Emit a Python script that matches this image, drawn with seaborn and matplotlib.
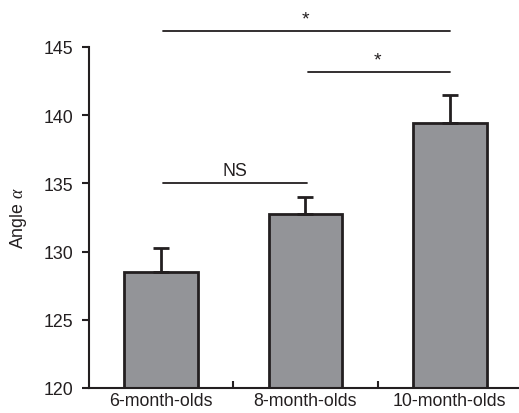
import matplotlib
matplotlib.use("Agg")
import matplotlib.pyplot as plt
import seaborn as sns
import pandas as pd
import numpy as np

categories = ["6-month-olds", "8-month-olds", "10-month-olds"]
means = [128.5, 132.75, 139.4]
errors = [1.75, 1.25, 2.1]
y_ticks = [120, 125, 130, 135, 140, 145]

sns.set_style("ticks")
plt.rcParams["font.family"] = ["Liberation Sans", "DejaVu Sans"]
plt.rcParams["mathtext.fontset"] = "custom"
plt.rcParams["mathtext.it"] = "Liberation Serif:italic"
tc = "#231f20"
plt.rcParams["text.color"] = tc
plt.rcParams["axes.labelcolor"] = tc
plt.rcParams["xtick.labelcolor"] = tc
plt.rcParams["ytick.labelcolor"] = tc

df = pd.DataFrame({"group": categories, "angle": means})

fig = plt.figure(figsize=(5.19, 4.14), dpi=100)
ax = fig.add_axes([89/519, 1-389/414, 1.0-89/519, (389-48)/414])

sns.barplot(data=df, x="group", y="angle", color="#939498", edgecolor=tc,
            linewidth=2, width=0.51, errorbar=None, ax=ax, saturation=1)
ax.errorbar(np.arange(len(categories)), means, yerr=[[0]*3, errors], fmt="none",
            ecolor=tc, elinewidth=2, capsize=5.5, capthick=2, zorder=1)

fs = 12.8
ax.set_ylim(120, 145)
ax.set_xlim(-0.5, 2.48)
ax.set_yticks(y_ticks)
ax.set_xticks([0, 1, 2])
ax.set_xticklabels(categories, fontsize=fs)
ax.set_xticks([0.5, 1.5], minor=True)
ax.tick_params(axis="x", which="major", length=0, pad=3, labelcolor=tc)
ax.tick_params(axis="x", which="minor", direction="in", length=5, width=1.5, color=tc)
ax.tick_params(axis="y", direction="out", length=5, width=1.5, labelsize=fs, color=tc,
               labelcolor=tc, pad=6)
for s in ["top", "right"]:
    ax.spines[s].set_visible(False)
for s in ["left", "bottom"]:
    ax.spines[s].set_linewidth(1.5)
    ax.spines[s].set_color(tc)
ax.set_xlabel("")
ax.set_ylabel(r"Angle $\it{\alpha}$", fontsize=fs, labelpad=11, color=tc)

# significance annotations
ax.plot([0.01, 2.0], [146.15, 146.15], color=tc, lw=1.3, clip_on=False)
ax.text(1.0, 146.4, "*", ha="center", va="bottom", fontsize=14, clip_on=False)
ax.plot([1.02, 2.0], [143.2, 143.2], color=tc, lw=1.3, clip_on=False)
ax.text(1.5, 143.45, "*", ha="center", va="bottom", fontsize=14)
ax.plot([0.01, 1.01], [135.0, 135.0], color=tc, lw=1.3)
ax.text(0.51, 135.35, "NS", ha="center", va="bottom", fontsize=fs)

fig.savefig("out.png", dpi=100)
